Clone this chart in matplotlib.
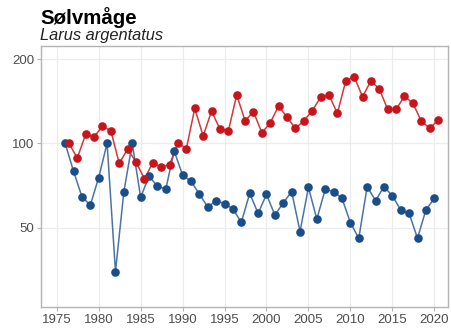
import numpy as np
import matplotlib
matplotlib.use('Agg')
import matplotlib.pyplot as plt
from matplotlib.ticker import FixedLocator, NullLocator

# data (index, 1976 = 100)
years = np.arange(1976, 2021)
red_values = [100, 88.6, 107.9, 105.4, 115.3, 110.8, 84.8, 95.4, 85.7, 74.7,
              85.3, 82.1, 83.9, 100.5, 95.7, 133.3, 106.2, 130.4, 112.5, 110.6,
              148.8, 120.4, 129.7, 109.1, 118.4, 136.2, 123.8, 113.1, 120.4, 130.8,
              146.0, 148.8, 128.0, 167.3, 172.9, 146.7, 167.3, 156.3, 132.2, 132.2,
              147.5, 138.9, 120.4, 113.1, 121.1]
blue_values = [100, 79.5, 64.5, 60.1, 75.5, 100, 34.8, 67.2, 100, 64.1,
               76.4, 70.2, 68.7, 93.9, 77.0, 73.2, 65.9, 59.2, 62.4, 60.9,
               58.3, 52.2, 66.3, 56.2, 65.7, 55.4, 61.3, 67.2, 48.4, 69.6,
               53.6, 68.5, 67.2, 63.6, 52.1, 45.8, 70.0, 62.4, 70.0, 65.0,
               57.8, 56.2, 45.8, 57.8, 63.6]
x_ticks = [1975, 1980, 1985, 1990, 1995, 2000, 2005, 2010, 2015, 2020]
y_ticks = [50, 100, 200]

title = 'Sølvmåge'
subtitle = 'Larus argentatus'

red = '#c8151b'
blue = '#1a4e8a'
red_dodge = 0.45

plt.rcParams['font.family'] = ['Liberation Sans', 'DejaVu Sans']

fig = plt.figure(figsize=(4.51, 3.34), dpi=100)
ax = fig.add_axes([0.0916, 0.082, 0.9024, 0.780])

ax.plot(years, blue_values, color='#4a74a6', lw=1.1, zorder=3)
ax.plot(years, blue_values, 'o', color=blue, ms=6.2, mew=0, zorder=4)
ax.plot(years + red_dodge, red_values, color='#d0393d', lw=1.1, zorder=3)
ax.plot(years + red_dodge, red_values, 'o', color=red, ms=6.2, mew=0, zorder=4)

ax.set_yscale('log')
ax.set_ylim(26.1, 222.6)
ax.set_xlim(1973.16, 2021.67)
ax.yaxis.set_major_locator(FixedLocator(y_ticks))
ax.yaxis.set_minor_locator(NullLocator())
ax.set_yticklabels([str(t) for t in y_ticks])
ax.set_xticks(x_ticks)

ax.grid(True, which='major', color='#ececec', lw=0.9, zorder=0)
ax.set_axisbelow(True)
for s in ax.spines.values():
    s.set_color('#b3b3b3')
    s.set_linewidth(1.0)
ax.tick_params(axis='both', colors='#b3b3b3', labelcolor='#4d4d4d',
               labelsize=9.5, length=3, width=0.8, pad=2)

fig.text(0.089, 0.927, title, fontsize=14.8, fontweight='bold', color='black',
         va='baseline')
fig.text(0.089, 0.879, subtitle, fontsize=11.8, style='italic', color='#222222',
         va='baseline')

fig.savefig('out.png', dpi=100)
